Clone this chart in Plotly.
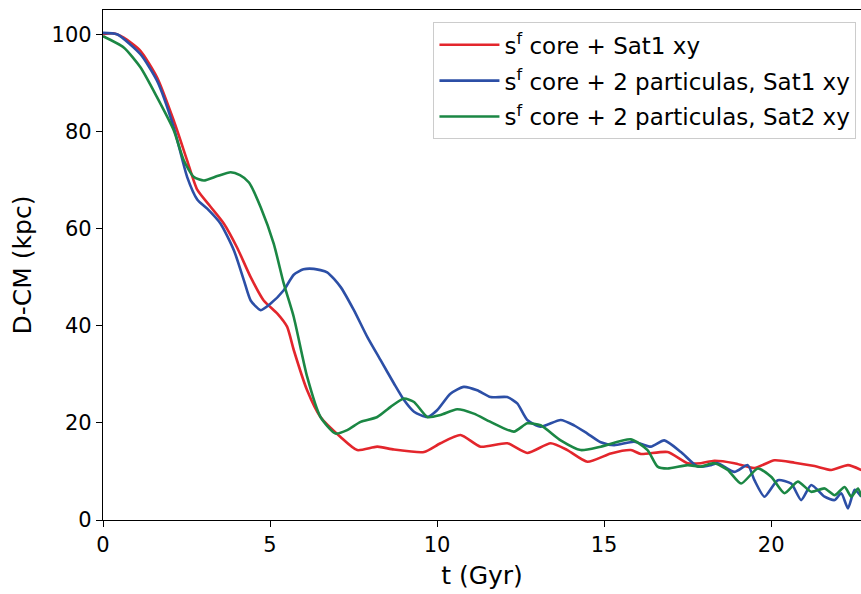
import plotly.graph_objects as go

# ---- data ----
t_red = [0, 0.3, 0.62, 1.12, 1.62, 2.12, 2.52, 2.82, 3.22, 3.62, 4.02, 4.42, 4.81, 5.22, 5.51,
         5.71, 6.11, 6.51, 7.11, 7.61, 8.21, 8.71, 9.61, 10.1, 10.7, 11.3, 12.1, 12.7, 13.4,
         13.9, 14.5, 15.2, 15.8, 16.1, 16.9, 17.5, 17.9, 18.3, 18.9, 19.5, 20.1, 20.7, 21.3,
         21.8, 22.3, 22.7]
d_red = [100, 100.2, 99.3, 96.6, 91.1, 82.2, 74.0, 68.0, 64.5, 61.0, 56.0, 50.0, 45.2, 42.5, 39.8,
         35.0, 26.7, 21.2, 17.1, 14.4, 15.1, 14.5, 14.0, 15.8, 17.5, 15.1, 15.8, 13.8, 15.8,
         14.4, 12.0, 13.7, 14.4, 13.6, 14.0, 11.7, 11.7, 12.2, 11.7, 10.7, 12.3, 11.8, 11.1,
         10.3, 11.3, 10.3]

t_blue = [0, 0.42, 1.12, 1.62, 2.12, 2.52, 2.82, 3.12, 3.52, 3.92, 4.22, 4.42, 4.72, 5.01, 5.41,
          5.71, 6.0, 6.31, 6.71, 7.11, 7.51, 7.91, 8.31, 8.71, 9.01, 9.31, 9.71, 10.0, 10.4,
          10.8, 11.2, 11.6, 12.1, 12.4, 12.7, 13.1, 13.7, 14.1, 14.5, 14.9, 15.3, 15.9, 16.4,
          16.8, 17.3, 17.8, 18.2, 18.4, 18.9, 19.3, 19.5, 19.8, 20.2, 20.6, 20.9, 21.2, 21.6,
          21.9, 22.1, 22.3, 22.5, 22.7]
d_blue = [100.3, 100, 95.9, 90.4, 80.8, 70.6, 66.0, 64.1, 61.0, 55.5, 49.3, 45.2, 43.2, 44.5, 47.3,
          50.5, 51.6, 51.7, 51.0, 48.0, 43.2, 37.7, 32.9, 28.1, 24.7, 22.3, 21.2, 22.6, 26.0,
          27.4, 26.7, 25.3, 25.3, 24.0, 20.6, 19.2, 20.6, 19.5, 17.8, 16.0, 15.4, 16.1, 15.1,
          16.4, 14.0, 11.0, 11.3, 11.7, 9.9, 11.3, 8.2, 4.8, 8.2, 7.5, 4.1, 7.2, 4.8,
          4.1, 5.5, 2.4, 6.2, 4.8]

t_green = [0, 0.62, 1.12, 1.62, 2.12, 2.42, 2.72, 3.02, 3.42, 3.82, 4.1, 4.37, 4.72, 5.11, 5.41,
           5.71, 6.11, 6.51, 6.96, 7.31, 7.71, 8.21, 8.61, 9.01, 9.31, 9.71, 10.1, 10.6, 11.1,
           11.6, 12.3, 12.7, 13.1, 13.7, 14.3, 14.9, 15.8, 16.3, 16.6, 16.9, 17.5, 17.9, 18.3,
           18.7, 19.1, 19.6, 20.0, 20.4, 20.8, 21.2, 21.6, 21.9, 22.2, 22.4, 22.6, 22.7]
d_green = [99.6, 97.3, 93.2, 87.0, 80.2, 74.0, 70.6, 69.9, 70.8, 71.6, 71.0, 69.5, 64.4, 56.9, 48.7,
           41.8, 29.5, 21.2, 17.8, 18.5, 20.2, 21.2, 23.3, 25.0, 24.3, 21.2, 21.6, 22.8, 21.9,
           20.2, 18.2, 19.9, 19.5, 16.4, 14.4, 15.1, 16.6, 14.4, 11.0, 10.6, 11.3, 11.0, 11.7,
           10.3, 7.5, 10.6, 8.9, 5.5, 7.9, 5.8, 6.5, 5.1, 6.8, 4.8, 6.5, 4.8]

names = ["s<sup>f</sup> core + Sat1 xy",
         "s<sup>f</sup> core + 2 particulas, Sat1 xy",
         "s<sup>f</sup> core + 2 particulas, Sat2 xy"]
colors = ["#e3262c", "#2c4fa6", "#1b8744"]

x_ticks = [0, 5, 10, 15, 20]
y_ticks = [0, 20, 40, 60, 80, 100]

fig = go.Figure()
for i, (t, d, n, c) in enumerate([(t_red, d_red, names[0], colors[0]),
                                  (t_blue, d_blue, names[1], colors[1]),
                                  (t_green, d_green, names[2], colors[2])]):
    fig.add_trace(go.Scatter(x=t, y=d, name=n, mode="lines", legendgroup=f"g{i}",
                             line=dict(color=c, width=2.6, shape="spline", smoothing=0.6)))

font = dict(family="DejaVu Sans", size=21, color="black")
fig.update_layout(
    width=861, height=594,
    margin=dict(l=103, r=0, t=10, b=74),
    plot_bgcolor="white", paper_bgcolor="white",
    font=font,
    showlegend=True,
    legend=dict(x=0.994, y=0.976, xanchor="right", yanchor="top",
                bgcolor="white", bordercolor="#cccccc", borderwidth=1,
                tracegroupgap=3, itemwidth=60,
                font=dict(family="DejaVu Sans", size=23, color="black")),
)
fig.update_xaxes(range=[0, 22.69], tickvals=x_ticks, ticks="outside", ticklen=6,
                 tickcolor="black", showline=True, linecolor="black", linewidth=1.3,
                 mirror=True, showgrid=False, zeroline=False,
                 title=dict(text="t (Gyr)", standoff=10), tickfont=font)
fig.update_yaxes(range=[0, 105], tickvals=y_ticks, ticks="outside", ticklen=6,
                 tickcolor="black", showline=True, linecolor="black", linewidth=1.3,
                 showgrid=False, zeroline=False,
                 title=dict(text="D-CM (kpc)", standoff=12), tickfont=font)

fig.write_html("out.html")
